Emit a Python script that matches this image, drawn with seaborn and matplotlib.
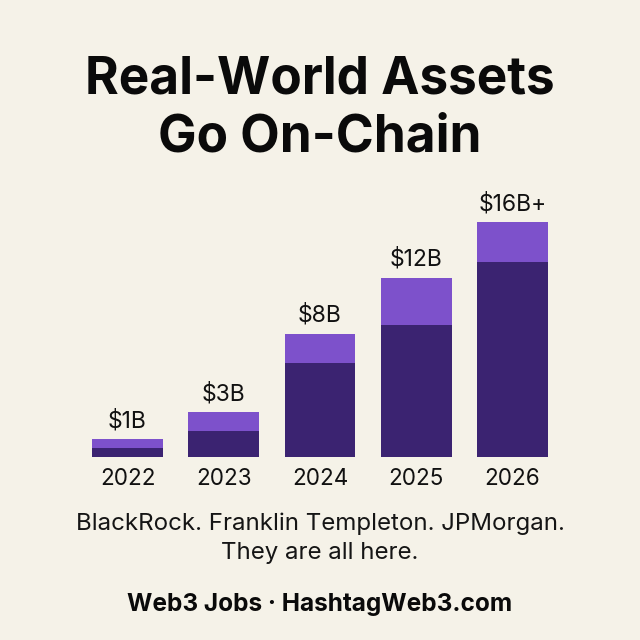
#!/usr/bin/env python3
# Real-world assets on-chain bar chart

import matplotlib
matplotlib.use('Agg')
import matplotlib.pyplot as plt
import seaborn as sns

# Data
years = ['2022', '2023', '2024', '2025', '2026']
base_values = [0.6, 1.8, 6.4, 9.0, 13.3]      # dark lower segment ($B)
growth_values = [0.6, 1.25, 2.0, 3.2, 2.7]    # light upper segment ($B)
bar_labels = ['$1B', '$3B', '$8B', '$12B', '$16B+']
totals = [b + g for b, g in zip(base_values, growth_values)]

bg = '#f5f2e8'
dark = '#3b2371'
light = '#7d51cb'

sns.set_theme(style='white')
plt.rcParams['font.family'] = ['Inter', 'DejaVu Sans']

fig = plt.figure(figsize=(6.4, 6.4), dpi=100, facecolor=bg)
ax = fig.add_axes([79.4 / 640, 1 - 457 / 640, 481.2 / 640, 235 / 640])
ax.set_facecolor(bg)

sns.barplot(x=years, y=totals, color=light, width=0.735, saturation=1,
            linewidth=0, ax=ax)
sns.barplot(x=years, y=base_values, color=dark, width=0.735, saturation=1,
            linewidth=0, ax=ax)

ax.set_xlim(-0.5, 4.5)
ax.set_ylim(0, max(totals))
sns.despine(ax=ax, left=True, bottom=True)
ax.set_yticks([])
ax.tick_params(axis='x', length=0, pad=8, labelsize=16.2, colors='#111111')

for i, (t, lab) in enumerate(zip(totals, bar_labels)):
    ax.annotate(lab, (i, t), xytext=(0, 5), textcoords='offset points',
                ha='center', va='bottom', fontsize=16.5, color='#111111')

fig.text(0.5, 1 - 80 / 640, 'Real-World Assets', ha='center', va='center',
         fontsize=37, fontweight='bold', color='#0a0a0a')
fig.text(0.5, 1 - 138 / 640, 'Go On-Chain', ha='center', va='center',
         fontsize=37, fontweight='bold', color='#0a0a0a')

fig.text(0.5, 1 - 524 / 640, 'BlackRock. Franklin Templeton. JPMorgan.',
         ha='center', va='center', fontsize=17.3, color='#151515')
fig.text(0.5, 1 - 553 / 640, 'They are all here.',
         ha='center', va='center', fontsize=17.3, color='#151515')
fig.text(0.5, 1 - 604 / 640, 'Web3 Jobs \u00b7 HashtagWeb3.com',
         ha='center', va='center', fontsize=17.6, fontweight='bold', color='#0a0a0a')

fig.savefig('out.png', dpi=100, facecolor=bg)
